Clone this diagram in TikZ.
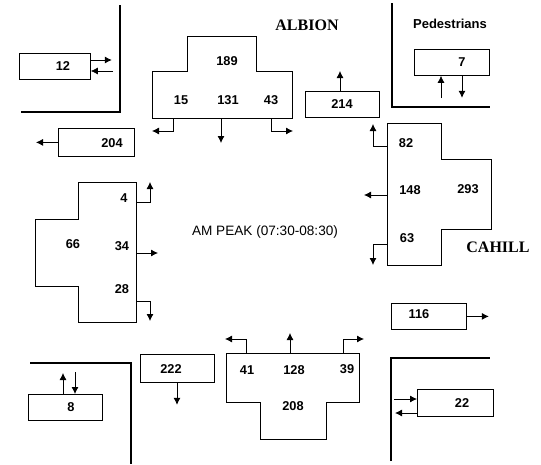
\documentclass[tikz,border=0pt]{standalone}
\usepackage{fontspec}
\setmainfont{Liberation Sans}
\newfontfamily\streetfont{Liberation Serif}
\usetikzlibrary{arrows.meta}

\begin{document}
\begin{tikzpicture}[x=1pt, y=-1pt, line width=0.8pt, >={Latex[length=7pt,width=7pt]},
    wall/.style={line width=2.6pt},
    cntbox/.style={draw, inner sep=0pt, anchor=north west},
    cnt/.style={font=\fontsize{12.8}{14}\selectfont\bfseries},
    street/.style={font=\fontsize{16}{18}\selectfont\streetfont\bfseries}]
    \useasboundingbox (0,0) rectangle (541,464);

    % 1. Bordures des trottoirs (coins)
    \draw[wall] (120,5) -- (120,112) -- (21,112);
    \draw[wall] (392,3) -- (392,107) -- (490,107);
    \draw[wall] (30,363) -- (131,363) -- (131,464);
    \draw[wall] (391,461) -- (391,358) -- (490,358);

    % 2. Branche nord (Albion)
    \draw (187,36) -- (256,36) -- (256,71) -- (292,71) -- (292,118) -- (152,118) -- (152,71) -- (187,71) -- cycle;
    \node[cnt] (n189) at (227,61) {189};
    \node[cnt] (n15) at (181,100) {15};
    \node[cnt] (n131) at (228,100) {131};
    \node[cnt] (n43) at (271,100) {43};
    \draw[->] (173,118) -- (173,131) -- (152,131);
    \draw[->] (221,118) -- (221,143);
    \draw[->] (271,118) -- (271,131) -- (293,131);

    % 3. Branche est (Cahill)
    \draw (387,123) -- (441,123) -- (441,159) -- (491,159) -- (491,229) -- (441,229) -- (441,265) -- (387,265) -- cycle;
    \node[cnt] (n82) at (406,143) {82};
    \node[cnt] (n148) at (410,190) {148};
    \node[cnt] (n293) at (468,189) {293};
    \node[cnt] (n63) at (407,238) {63};
    \draw[->] (387,146) -- (373,146) -- (373,124);
    \draw[->] (387,195) -- (364,195);
    \draw[->] (387,244) -- (373,244) -- (373,265);

    % 4. Branche ouest
    \draw (78,182) -- (136,182) -- (136,322) -- (78,322) -- (78,286) -- (35,286) -- (35,219) -- (78,219) -- cycle;
    \node[cnt] (n4) at (124,198) {4};
    \node[cnt] (n66) at (73,244) {66};
    \node[cnt] (n34) at (122,246) {34};
    \node[cnt] (n28) at (122,289) {28};
    \draw[->] (136,202) -- (150,202) -- (150,182);
    \draw[->] (136,253) -- (158,253);
    \draw[->] (136,301) -- (150,301) -- (150,321);

    % 5. Branche sud
    \draw (226,353) -- (359,353) -- (359,402) -- (326,402) -- (326,439) -- (260,439) -- (260,402) -- (226,402) -- cycle;
    \node[cnt] (n41) at (247,370) {41};
    \node[cnt] (n128) at (294,370) {128};
    \node[cnt] (n39) at (347,369) {39};
    \node[cnt] (n208) at (293,406) {208};
    \draw[->] (246,353) -- (246,339) -- (225,339);
    \draw[->] (290,353) -- (290,333);
    \draw[->] (343,353) -- (343,339) -- (364,339);

    % 6. Totaux des approches et pietons
    \node[cntbox, minimum width=71pt, minimum height=26pt] (b12) at (19,53) {};
    \node[cnt] (n12) at (63,66) {12};
    \draw[->] (b12.east |- 0,60) -- ++(21,0);
    \draw[->] (113,71) -- (b12.east |- 0,71);

    \node[cntbox, minimum width=76pt, minimum height=28pt] (b204) at (58,128) {};
    \node[cnt] (n204) at (112,143) {204};
    \draw[->] (b204.west) -- ++(-22,0);

    \node[cntbox, minimum width=74pt, minimum height=26pt] (b214) at (305,91) {};
    \node[cnt] (n214) at (342,104) {214};
    \draw[->] (b214.north -| 340,0) -- ++(0,-20);

    \node[cntbox, minimum width=75pt, minimum height=26pt] (b7) at (414,49) {};
    \node[cnt] (n7) at (462,62) {7};
    \draw[->] (441,98) -- (b7.south -| 441,0);
    \draw[->] (b7.south -| 462,0) -- ++(0,22);

    \node[cntbox, minimum width=75pt, minimum height=26pt] (b116) at (391,303) {};
    \node[cnt] (n116) at (419,314) {116};
    \draw[->] (b116.east) -- ++(22,0);

    \node[cntbox, minimum width=76pt, minimum height=27pt] (b22) at (417,389) {};
    \node[cnt] (n22) at (462,403) {22};
    \draw[->] (394,399) -- (b22.west |- 0,399);
    \draw[->] (b22.west |- 0,413) -- ++(-22,0);

    \node[cntbox, minimum width=74pt, minimum height=26pt] (b8) at (28,394) {};
    \node[cnt] (n8) at (71,407) {8};
    \draw[->] (b8.north -| 63,0) -- ++(0,-21);
    \draw[->] (75,372) -- (b8.north -| 75,0);

    \node[cntbox, minimum width=74pt, minimum height=28pt] (b222) at (140,354) {};
    \node[cnt] (n222) at (171,369) {222};
    \draw[->] (b222.south -| 177,0) -- ++(0,22);

    % 7. Noms des rues et titre
    \node[street] (albion) at (307,25) {ALBION};
    \node[street] (cahill) at (498,247) {CAHILL};
    \node[font=\fontsize{13}{15}\selectfont\bfseries] (peds) at (450,24) {Pedestrians};
    \node[font=\fontsize{13.6}{15}\selectfont] (peak) at (265,232) {AM PEAK (07:30-08:30)};
\end{tikzpicture}
\end{document}
